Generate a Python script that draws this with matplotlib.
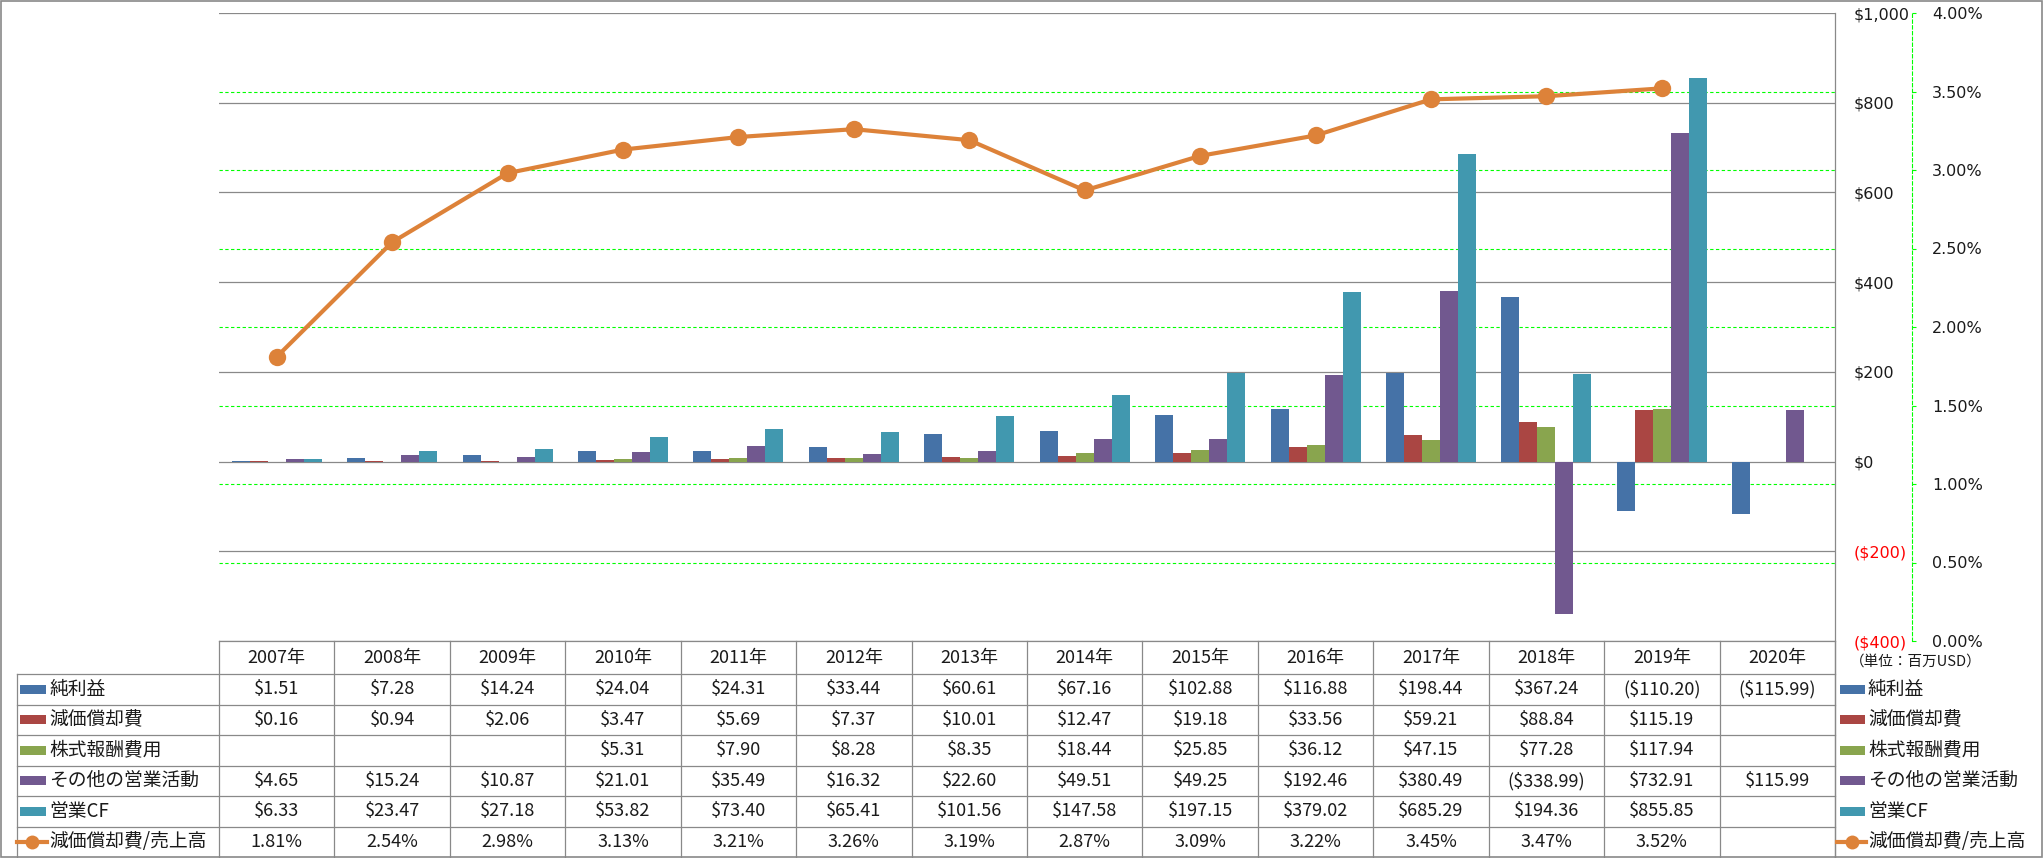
import numpy as np
import matplotlib
matplotlib.use("Agg")
import matplotlib.pyplot as plt
from matplotlib.lines import Line2D
from matplotlib.patches import Rectangle
from matplotlib.transforms import blended_transform_factory

# ---------------- data ----------------
years = ['2007年', '2008年', '2009年', '2010年', '2011年', '2012年', '2013年',
         '2014年', '2015年', '2016年', '2017年', '2018年', '2019年', '2020年']
nan = np.nan
net_income = [1.51, 7.28, 14.24, 24.04, 24.31, 33.44, 60.61, 67.16, 102.88, 116.88, 198.44, 367.24, -110.20, -115.99]
depreciation = [0.16, 0.94, 2.06, 3.47, 5.69, 7.37, 10.01, 12.47, 19.18, 33.56, 59.21, 88.84, 115.19, nan]
stock_comp = [nan, nan, nan, 5.31, 7.90, 8.28, 8.35, 18.44, 25.85, 36.12, 47.15, 77.28, 117.94, nan]
other_ops = [4.65, 15.24, 10.87, 21.01, 35.49, 16.32, 22.60, 49.51, 49.25, 192.46, 380.49, -338.99, 732.91, 115.99]
op_cf = [6.33, 23.47, 27.18, 53.82, 73.40, 65.41, 101.56, 147.58, 197.15, 379.02, 685.29, 194.36, 855.85, nan]
ratio = [1.81, 2.54, 2.98, 3.13, 3.21, 3.26, 3.19, 2.87, 3.09, 3.22, 3.45, 3.47, 3.52, nan]

series_names = ['純利益', '減価償却費', '株式報酬費用', 'その他の営業活動', '営業CF']
line_name = '減価償却費/売上高'
unit_label = '（単位：百万USD）'
left_ticks = [-400, -200, 0, 200, 400, 600, 800, 1000]
right_ticks = [0.0, 0.5, 1.0, 1.5, 2.0, 2.5, 3.0, 3.5, 4.0]

bar_colors = ['#4572A7', '#AA4643', '#89A54E', '#71588F', '#4198AF']
line_color = '#DD8239'
grid_gray = '#898989'
green = '#00FF00'

# ---------------- layout helpers ----------------
W, H = 2043, 858
fig = plt.figure(figsize=(W / 100, H / 100), dpi=100)
fig.patch.set_facecolor('white')

def fx(px):
    return px / W

def fy(py):
    return 1 - py / H

def hline(y, x0, x1, color=grid_gray, lw=0.9, **kw):
    fig.add_artist(Line2D([fx(x0), fx(x1)], [fy(y), fy(y)], transform=fig.transFigure,
                          color=color, lw=lw, **kw))

def vline(x, y0, y1, color=grid_gray, lw=0.9, **kw):
    fig.add_artist(Line2D([fx(x), fx(x)], [fy(y0), fy(y1)], transform=fig.transFigure,
                          color=color, lw=lw, **kw))

PL, PR, PT, PB = 219, 1835, 13, 641
ax = fig.add_axes([fx(PL), fy(PB), fx(PR) - fx(PL), (PB - PT) / H])
ax.set_xlim(0, len(years))
ax.set_ylim(-400, 1000)
ax.patch.set_alpha(0)
for s in ax.spines.values():
    s.set_visible(False)
ax.set_xticks([])

ax2 = ax.twinx()
ax2.set_ylim(0, 4)
ax2.patch.set_alpha(0)
for k in ['left', 'top', 'bottom']:
    ax2.spines[k].set_visible(False)

# gray primary gridlines
for t in left_ticks:
    ax.axhline(t, color=grid_gray, lw=0.9, zorder=0.4)

# green dashed secondary gridlines (drawn behind bars)
tr = blended_transform_factory(ax.transAxes, ax2.transData)
for t in right_ticks[1:-1]:
    ax.plot([0, 1], [t, t], transform=tr, color=green, lw=0.8,
            dashes=(3.0, 2.2), zorder=0.5)

# bars
cat_w = (PR - PL)
bw = 18 / (cat_w / len(years))
all_series = [net_income, depreciation, stock_comp, other_ops, op_cf]
xc = np.arange(len(years)) + 0.5
for k, (vals, col) in enumerate(zip(all_series, bar_colors)):
    v = np.array(vals, dtype=float)
    m = ~np.isnan(v)
    ax.bar(xc[m] + (k - 2) * bw, v[m], width=bw, color=col, zorder=2, linewidth=0)

# line on secondary axis
r = np.array(ratio, dtype=float)
ax2.plot(xc, r, color=line_color, lw=3.0, marker='o', markersize=12.5,
         markeredgewidth=0, zorder=5, solid_capstyle='round')

# primary tick labels (right side)
def money(v):
    if v < 0:
        return '(${:,.0f})'.format(-v)
    return '${:,.0f}'.format(v)

ax.yaxis.tick_right()
ax.set_yticks(left_ticks)
ax.set_yticklabels([money(t) for t in left_ticks], fontfamily='DejaVu Sans', fontsize=11.5)
ax.tick_params(axis='y', length=0, pad=13.7)
for lab, t in zip(ax.get_yticklabels(), left_ticks):
    lab.set_color('red' if t < 0 else '#1a1a1a')

# secondary axis
ax2.spines['right'].set_position(('outward', (1912 - PR) * 0.72))
ax2.spines['right'].set_color(green)
ax2.spines['right'].set_linestyle((0, (3.0, 2.2)))
ax2.spines['right'].set_linewidth(0.8)
ax2.set_yticks(right_ticks)
ax2.set_yticklabels(['{:.2f}%'.format(t) for t in right_ticks], fontfamily='DejaVu Sans', fontsize=11.5,
                    color='#1a1a1a')
ax2.tick_params(axis='y', length=3, width=0.8, color=green, pad=11.5)

# ---------------- frame and table ----------------
fig.add_artist(Rectangle((fx(1), fy(857)), fx(2041), (856) / H, transform=fig.transFigure,
                         fill=False, edgecolor=grid_gray, lw=1.2))

vline(PR, PT, 858)

hdr_top, hdr_bot = 641, 674
row_h = (857 - hdr_bot) / 6
row_edges = [hdr_bot + i * row_h for i in range(7)]
colw = (PR - PL) / len(years)

hline(hdr_top, PL, PR)
for y in row_edges[:-1]:
    hline(y, 17, PR)
vline(17, hdr_bot, 858)
for i in range(len(years) + 1):
    vline(PL + i * colw, hdr_top, 858)

cjk = ['Noto Sans CJK JP', 'DejaVu Sans']
tfs = 13

for i, yl in enumerate(years):
    fig.text(fx(PL + (i + 0.5) * colw), fy((hdr_top + hdr_bot) / 2), yl,
             ha='center', va='center', fontsize=tfs, family=cjk, color='#1a1a1a')

def cell(v):
    if np.isnan(v):
        return ''
    if v < 0:
        return '(${:,.2f})'.format(-v)
    return '${:,.2f}'.format(v)

rows = all_series + [ratio]
for rI, vals in enumerate(rows):
    yc = (row_edges[rI] + row_edges[rI + 1]) / 2
    for i, v in enumerate(vals):
        v = float(v)
        if rI == len(rows) - 1:
            s = '' if np.isnan(v) else '{:.2f}%'.format(v)
        else:
            s = cell(v)
        if s:
            fig.text(fx(PL + (i + 0.5) * colw), fy(yc), s, ha='center', va='center',
                     fontsize=tfs, family=cjk, color='#1a1a1a')

labels = series_names + [line_name]
for rI, name in enumerate(labels):
    yc = (row_edges[rI] + row_edges[rI + 1]) / 2
    for kx0, kx1, tx in [(20, 46, 49), (1840, 1865, 1868)]:
        if rI < 5:
            fig.add_artist(Rectangle((fx(kx0), fy(yc + 4.5)), fx(kx1) - fx(kx0), 9 / H,
                                     transform=fig.transFigure, color=bar_colors[rI], lw=0))
        else:
            fig.add_artist(Line2D([fx(kx0 - 3), fx(kx1 + 1)], [fy(yc), fy(yc)],
                                  transform=fig.transFigure, color=line_color, lw=3.0))
            fig.add_artist(Line2D([fx((kx0 + kx1) / 2 - 1)], [fy(yc)], transform=fig.transFigure,
                                  color=line_color, marker='o', markersize=10, markeredgewidth=0))
        fig.text(fx(tx), fy(yc), name, ha='left', va='center', fontsize=13.5,
                 family=cjk, color='#1a1a1a')

fig.text(fx(1850), fy(662), unit_label, ha='left', va='center', fontsize=10.5,
         family=cjk, color='#1a1a1a')

fig.savefig('out.png', dpi=100, facecolor='white')
